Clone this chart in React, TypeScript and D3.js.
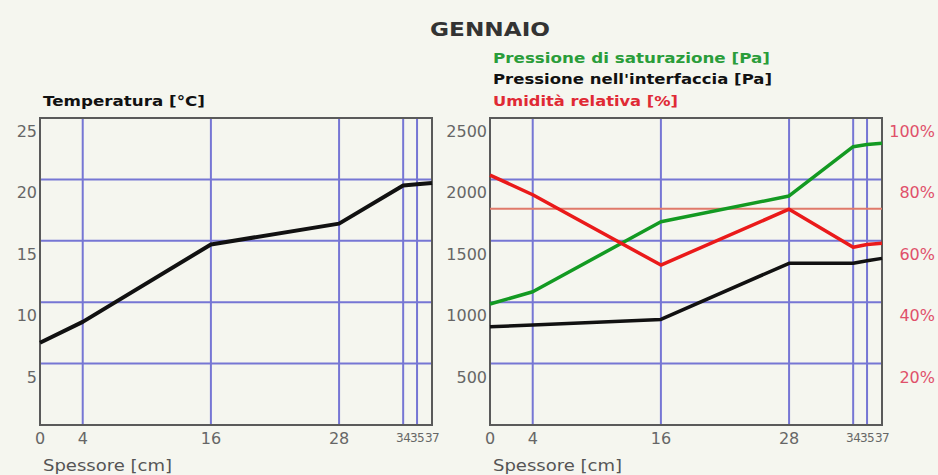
import React from "react";
import * as d3 from "d3";

const W = 938;
const H = 475;

// layer boundaries (cm) and tick labels
const thickness = [0, 4, 16, 28, 34, 35.3, 36.7];
const xTickLabels = ["0", "4", "16", "28", "34", "35", "37"];

// series
const temperature = [6.7, 8.4, 14.7, 16.4, 19.5, 19.6, 19.7];
const saturationPressure = [985, 1085, 1655, 1865, 2266, 2285, 2294];
const interfacePressure = [800, 814, 860, 1317, 1317, 1337, 1357];
const relativeHumidity = [81.4, 75, 52.1, 70.3, 57.9, 58.8, 59.2];
const humidityReference = [70.4];

// axis ticks
const tempTicks = [5, 10, 15, 20, 25];
const pressureTicks = [500, 1000, 1500, 2000, 2500];
const rhTicks = [20, 40, 60, 80, 100];

const GRID = "#7676d4";
const FRAME = "#5a5a5a";
const TICK = "#666";
const FONT = "'DejaVu Sans', Arial, sans-serif";

const top = 118;
const bottom = 425;
const leftX: [number, number] = [40, 432];
const rightX: [number, number] = [490, 882];

export default function App() {
  const xL = d3.scaleLinear().domain([0, 36.7]).range(leftX);
  const xR = d3.scaleLinear().domain([0, 36.7]).range(rightX);
  const yT = d3.scaleLinear().domain([0, 25]).range([bottom, top]);
  const yP = d3.scaleLinear().domain([0, 2500]).range([bottom, top]);
  const yH = d3.scaleLinear().domain([0, 100]).range([bottom, top]);

  const idx = thickness.map((_, i) => i);
  const lineT = d3.line<number>().x((i) => xL(thickness[i])).y((i) => yT(temperature[i]));
  const lineS = d3.line<number>().x((i) => xR(thickness[i])).y((i) => yP(saturationPressure[i]));
  const lineI = d3.line<number>().x((i) => xR(thickness[i])).y((i) => yP(interfacePressure[i]));
  const lineH = d3.line<number>().x((i) => xR(thickness[i])).y((i) => yH(relativeHumidity[i]));

  const innerX = thickness.slice(1, -1);

  const panel = (
    x: d3.ScaleLinear<number, number>,
    y: d3.ScaleLinear<number, number>,
    ticks: number[]
  ) => (
    <g>
      {innerX.map((t, i) => (
        <line key={"v" + i} x1={x(t)} x2={x(t)} y1={top} y2={bottom} stroke={GRID} strokeWidth={2} />
      ))}
      {ticks.slice(0, -1).map((t, i) => (
        <line key={"h" + i} x1={x.range()[0]} x2={x.range()[1]} y1={y(t)} y2={y(t)} stroke={GRID} strokeWidth={2} />
      ))}
      <rect
        x={x.range()[0]}
        y={top}
        width={x.range()[1] - x.range()[0]}
        height={bottom - top}
        fill="none"
        stroke={FRAME}
        strokeWidth={2}
      />
      {thickness.map((t, i) => {
        const crowded = i >= 4;
        return (
          <text
            key={"xt" + i}
            x={x(t)}
            y={bottom + 13}
            textAnchor="middle"
            dominantBaseline="central"
            fontFamily={FONT}
            fontSize={crowded ? 12 : 16}
            letterSpacing={crowded ? -0.6 : 0}
            fill={TICK}
          >
            {xTickLabels[i]}
          </text>
        );
      })}
      {ticks.map((t, i) => (
        <text
          key={"yt" + i}
          x={x.range()[0] - 3}
          y={y(t) + 13.5}
          textAnchor="end"
          dominantBaseline="central"
          fontFamily={FONT}
          fontSize={16}
          fill={TICK}
        >
          {t}
        </text>
      ))}
      <text
        x={x.range()[0] + 3}
        y={465}
        dominantBaseline="central"
        fontFamily={FONT}
        fontSize={16}
        fill="#555"
        textLength={129}
        lengthAdjust="spacingAndGlyphs"
      >
        Spessore [cm]
      </text>
    </g>
  );

  return (
    <svg
      width={W}
      height={H}
      style={{ position: "absolute", left: 0, top: 0, background: "#f5f6ef" }}
    >
      <rect x={0} y={0} width={W} height={H} fill="#f5f6ef" />
      <text
        x={430}
        y={29}
        dominantBaseline="central"
        fontFamily={FONT}
        fontWeight="bold"
        fontSize={20}
        fill="#333"
        textLength={120}
        lengthAdjust="spacingAndGlyphs"
      >
        GENNAIO
      </text>

      {/* left panel */}
      <text
        x={43}
        y={101}
        dominantBaseline="central"
        fontFamily={FONT}
        fontWeight="bold"
        fontSize={14}
        fill="#111"
        textLength={162}
        lengthAdjust="spacingAndGlyphs"
      >
        Temperatura [°C]
      </text>
      {panel(xL, yT, tempTicks)}
      <path d={lineT(idx) || ""} fill="none" stroke="#111" strokeWidth={4} strokeLinejoin="round" />

      {/* right panel */}
      <text x={493} y={58} dominantBaseline="central" fontFamily={FONT} fontWeight="bold" fontSize={14} fill="#2a9d3a" textLength={277} lengthAdjust="spacingAndGlyphs">
        Pressione di saturazione [Pa]
      </text>
      <text x={493} y={79} dominantBaseline="central" fontFamily={FONT} fontWeight="bold" fontSize={14} fill="#111" textLength={279} lengthAdjust="spacingAndGlyphs">
        Pressione nell'interfaccia [Pa]
      </text>
      <text x={493} y={101} dominantBaseline="central" fontFamily={FONT} fontWeight="bold" fontSize={14} fill="#e02a35" textLength={185} lengthAdjust="spacingAndGlyphs">
        Umidità relativa [%]
      </text>
      {panel(xR, yP, pressureTicks)}
      {rhTicks.map((t, i) => (
        <text
          key={"rh" + i}
          x={935}
          y={yH(t) + 13.5}
          textAnchor="end"
          dominantBaseline="central"
          fontFamily={FONT}
          fontSize={16}
          fill="#e0506a"
        >
          {t + "%"}
        </text>
      ))}
      {humidityReference.map((v, i) => (
        <line key={"ref" + i} x1={rightX[0]} x2={rightX[1]} y1={yH(v)} y2={yH(v)} stroke="#e07a6a" strokeWidth={2} />
      ))}
      <path d={lineS(idx) || ""} fill="none" stroke="#139a22" strokeWidth={3.5} strokeLinejoin="round" />
      <path d={lineI(idx) || ""} fill="none" stroke="#111" strokeWidth={3.5} strokeLinejoin="round" />
      <path d={lineH(idx) || ""} fill="none" stroke="#ea1a1a" strokeWidth={3.5} strokeLinejoin="round" />
    </svg>
  );
}
